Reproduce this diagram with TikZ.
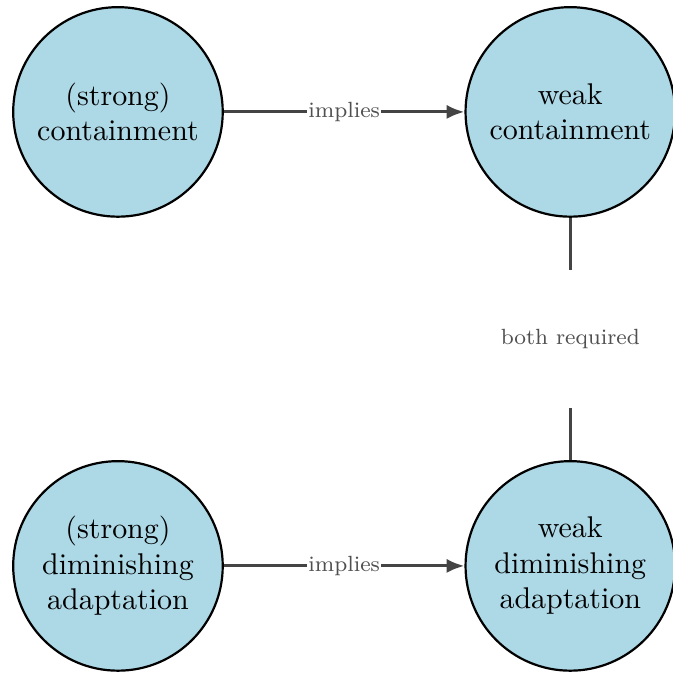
\documentclass[tikz,border=0pt]{standalone}
\usetikzlibrary{arrows.meta}
\definecolor{nodeblue}{RGB}{173,216,230}
\definecolor{linegray}{RGB}{68,68,68}
\definecolor{labelgray}{RGB}{80,80,80}
\begin{document}
\begin{tikzpicture}[x=1pt,y=1pt,
  concept/.style={circle, draw=black, line width=0.8pt, fill=nodeblue, minimum size=76.2pt, inner sep=0pt, align=center, font=\fontsize{10.9}{12.9}\selectfont},
  link/.style={draw=linegray, line width=1.15pt},
  implies/.style={link, -{Latex[length=6.5pt,width=5.2pt]}},
  lbl/.style={font=\footnotesize, text=labelgray, fill=white, inner sep=0.4pt}]
\useasboundingbox (0,0) rectangle (244.7,-246.2);
\node[concept] (sc) at (42.9,-40.7) {(strong)\\containment};
\node[concept] (wc) at (207.4,-40.7) {weak\\containment};
\node[concept] (sd) at (42.9,-205.8) {(strong)\\diminishing\\adaptation};
\node[concept] (wd) at (207.4,-205.8) {weak\\diminishing\\adaptation};
\draw[implies] (sc) -- node[lbl] {implies} (wc);
\draw[implies] (sd) -- node[lbl] {implies} (wd);
\node[font=\footnotesize, text=labelgray, minimum height=49.8pt, inner sep=0pt] (req) at (207.4,-123.2) {both required};
\draw[link] (wc) -- (req);
\draw[link] (req) -- (wd);
\end{tikzpicture}
\end{document}
